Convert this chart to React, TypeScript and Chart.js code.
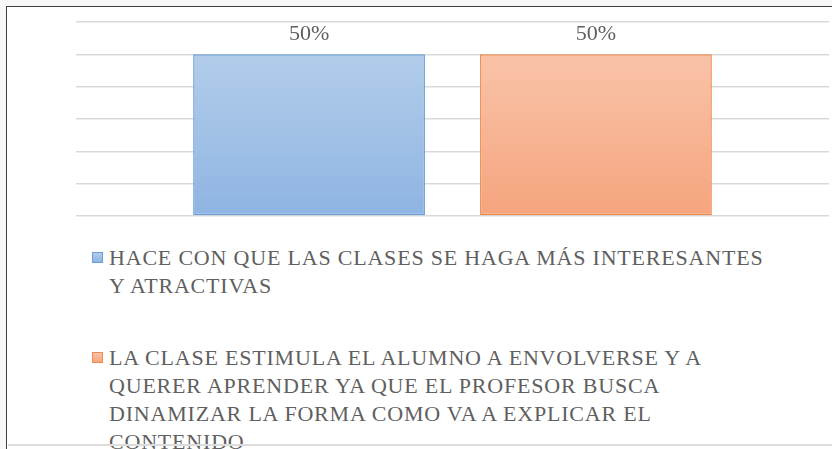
import React, { useEffect, useRef } from "react";
import { Chart, registerables } from "chart.js";

Chart.register(...registerables);

// ---- data ----
const categories = [""];
const seriesNames = [
  "HACE CON QUE LAS CLASES SE HAGA MÁS INTERESANTES Y ATRACTIVAS",
  "LA CLASE ESTIMULA EL ALUMNO A ENVOLVERSE Y A QUERER APRENDER YA QUE EL PROFESOR BUSCA DINAMIZAR LA FORMA COMO VA A EXPLICAR EL CONTENIDO",
];
const legendLinesA = ["HACE CON QUE LAS CLASES SE HAGA MÁS INTERESANTES", "Y ATRACTIVAS"];
const legendLinesB = [
  "LA CLASE ESTIMULA EL ALUMNO A ENVOLVERSE Y A",
  "QUERER APRENDER YA QUE EL PROFESOR BUSCA",
  "DINAMIZAR LA FORMA COMO VA A EXPLICAR EL",
  "CONTENIDO",
];
const seriesA = [50];
const seriesB = [50];
const yMin = 0;
const yMax = 60;
const yStep = 10;

const FONT = "'Liberation Serif', Tinos, 'Nimbus Roman', 'Noto Serif', 'DejaVu Serif', FreeSerif, Times, serif";
const TEXT = "#5f5f5f";

const blueTop = "#b2cdea";
const blueBottom = "#8fb4e2";
const blueBorder = "#6a9fd8";
const orangeTop = "#f9c3a8";
const orangeBottom = "#f5a47e";
const orangeBorder = "#ef8a4c";

function gradient(top: string, bottom: string) {
  return (ctx: any) => {
    const chart = ctx.chart;
    const area = chart.chartArea;
    if (!area || ctx.type !== "data") return bottom;
    const yScale = chart.scales.y;
    const y0 = yScale.getPixelForValue(ctx.raw);
    const g = chart.ctx.createLinearGradient(0, y0, 0, area.bottom);
    g.addColorStop(0, top);
    g.addColorStop(1, bottom);
    return g;
  };
}

const dataLabels = {
  id: "dataLabels",
  afterDatasetsDraw(chart: any) {
    const ctx = chart.ctx;
    ctx.save();
    ctx.font = `22px ${FONT}`;
    ctx.fillStyle = TEXT;
    ctx.textAlign = "center";
    ctx.textBaseline = "bottom";
    chart.data.datasets.forEach((ds: any, i: number) => {
      const meta = chart.getDatasetMeta(i);
      meta.data.forEach((bar: any, j: number) => {
        ctx.fillText(`${ds.data[j]}%`, bar.x, bar.y - 9);
      });
    });
    ctx.restore();
  },
};

function LegendItem({ lines, top, fill1, fill2, border }: any) {
  return (
    <div style={{ position: "absolute", left: 92, top, display: "flex" }}>
      <div
        style={{
          width: 11,
          height: 11,
          marginTop: 8,
          boxSizing: "border-box",
          border: `1px solid ${border}`,
          background: `linear-gradient(${fill1}, ${fill2})`,
          flex: "none",
        }}
      />
      <div
        style={{
          marginLeft: 6,
          fontFamily: FONT,
          fontSize: 22,
          letterSpacing: "0.8px",
          lineHeight: "28px",
          color: TEXT,
          whiteSpace: "nowrap",
        }}
      >
        {lines.map((l: string, k: number) => (
          <div key={k}>{l}</div>
        ))}
      </div>
    </div>
  );
}

export default function App() {
  const ref = useRef<HTMLCanvasElement | null>(null);

  useEffect(() => {
    if (!ref.current) return;
    const chart = new Chart(ref.current, {
      type: "bar",
      data: {
        labels: categories,
        datasets: [
          {
            label: seriesNames[0],
            data: seriesA,
            backgroundColor: gradient(blueTop, blueBottom),
            borderColor: blueBorder,
            borderWidth: 1.5,
            borderSkipped: false,
            categoryPercentage: 0.762,
            barPercentage: 0.808,
          },
          {
            label: seriesNames[1],
            data: seriesB,
            backgroundColor: gradient(orangeTop, orangeBottom),
            borderColor: orangeBorder,
            borderWidth: 1.5,
            borderSkipped: false,
            categoryPercentage: 0.762,
            barPercentage: 0.808,
          },
        ],
      },
      options: {
        responsive: false,
        animation: false,
        layout: { padding: { left: 76, right: 3, top: 22, bottom: 14 } },
        plugins: {
          legend: { display: false },
          tooltip: { enabled: false },
        },
        scales: {
          x: { display: false },
          y: {
            min: yMin,
            max: yMax,
            ticks: { stepSize: yStep, display: false },
            grid: { color: "#d9d9d9", lineWidth: 1.5, drawTicks: false },
            border: { display: false },
          },
        },
      },
      plugins: [dataLabels],
    });
    return () => chart.destroy();
  }, []);

  return (
    <div
      style={{
        position: "fixed",
        left: 0,
        top: 0,
        width: 832,
        height: 449,
        background: "#f7f7f7",
        overflow: "hidden",
      }}
    >
      <div
        style={{
          position: "absolute",
          left: 6,
          top: 6,
          width: 840,
          height: 460,
          background: "#ffffff",
          borderLeft: "1.5px solid #404040",
          borderTop: "1.5px solid #404040",
        }}
      />
      <canvas
        ref={ref}
        width={832}
        height={230}
        style={{ position: "absolute", left: 0, top: 0, width: 832, height: 230 }}
      />
      <LegendItem lines={legendLinesA} top={244} fill1={blueTop} fill2={blueBottom} border={blueBorder} />
      <LegendItem lines={legendLinesB} top={344} fill1={orangeTop} fill2={orangeBottom} border={orangeBorder} />
      <div
        style={{
          position: "absolute",
          left: 8,
          top: 444,
          width: 824,
          height: 2,
          background: "#dcdcdc",
        }}
      />
    </div>
  );
}
